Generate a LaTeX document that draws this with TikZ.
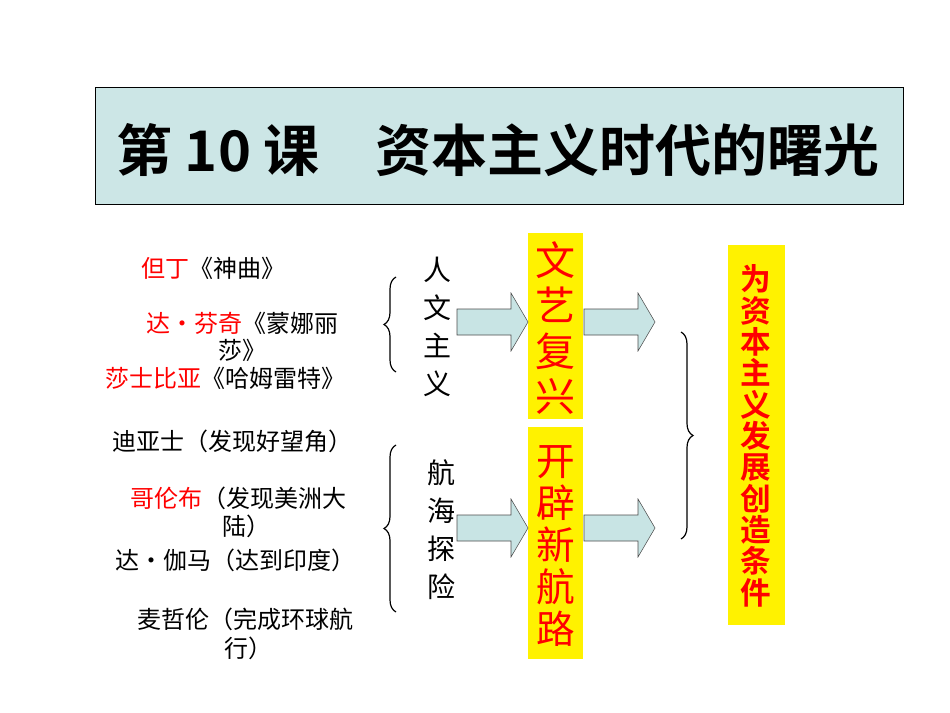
\documentclass[tikz,border=0pt]{standalone}
\usepackage{fontspec}
\setmainfont{Noto Sans CJK SC}
\newfontfamily\cjkb{Noto Sans CJK SC Bold}
\usetikzlibrary{decorations.pathreplacing}
\definecolor{tealbg}{RGB}{204,230,230}
\definecolor{arrfill}{RGB}{200,228,228}
\newcommand{\fatarrow}[3]{% name, x, y (left end)
  \draw[draw=black!70,fill=arrfill] (#2,#3-13) -- ++(54,0) -- ++(0,-16) -- ++(17,29) -- ++(-17,29) -- ++(0,-16) -- ++(-54,0) -- cycle;
  \coordinate (#1) at (#2,#3);}
\begin{document}
\begin{tikzpicture}[x=0.75pt,y=-0.75pt,
  lt/.style={font=\fontsize{18}{20}\selectfont,anchor=west,inner sep=0},
  vt/.style={font=\fontsize{21}{28.5}\selectfont,align=center,inner sep=0},
  yt/.style={align=center,inner sep=0,text=red},
  br/.style={decorate,decoration={brace,amplitude=9pt},line width=0.9pt}]
\useasboundingbox (0,0) rectangle (950,713);
\node[draw=black,fill=tealbg,minimum width=606pt,minimum height=88pt,anchor=north west,inner sep=0] (title) at (95,87) {};
\node[font=\cjkb\fontsize{42}{46}\selectfont] (tt) at (498,150) {第 10 课\quad 资本主义时代的曙光};
% yellow boxes
\fill[yellow] (528,233) rectangle (583,419);
\fill[yellow] (528,427) rectangle (583,659);
\fill[yellow] (728,245) rectangle (785,625);
\node[yt,font=\fontsize{30}{34}\selectfont] (wy) at (555.5,328) {文\\艺\\复\\兴};
\node[yt,font=\fontsize{29}{31.5}\selectfont] (kp) at (555.5,546) {开\\辟\\新\\航\\路};
\node[yt,font=\cjkb\fontsize{23}{23.5}\selectfont] (wz) at (756,436) {为\\资\\本\\主\\义\\发\\展\\创\\造\\条\\件};
% arrows
\fatarrow{a1}{457}{322}
\fatarrow{a2}{584}{322}
\fatarrow{a3}{457}{528}
\fatarrow{a4}{584}{528}
% vertical labels
\node[vt] (rw) at (437,327) {人\\文\\主\\义};
\node[vt] (hh) at (441,530) {航\\海\\探\\险};
% braces
\draw[br] (396,372) -- (396,277);
\draw[br] (396,612) -- (396,445);
\draw[br] (681,332) -- (681,539);
% left texts
\node[lt] (t1) at (141,268) {\textcolor{red}{但丁}《神曲》};
\node[lt] (t2) at (146,323) {\textcolor{red}{达•芬奇}《蒙娜丽};
\node[lt] (t2b) at (218,350) {莎》};
\node[lt] (t3) at (105,378) {\textcolor{red}{莎士比亚}《哈姆雷特》};
\node[lt] (t4) at (112,441) {迪亚士（发现好望角）};
\node[lt] (t5) at (130,498) {\textcolor{red}{哥伦布}（发现美洲大};
\node[lt] (t5b) at (222,526) {陆）};
\node[lt] (t6) at (115,560) {达•伽马（达到印度）};
\node[lt] (t7) at (137,619) {麦哲伦（完成环球航};
\node[lt] (t7b) at (224,648) {行）};
\end{tikzpicture}
\end{document}
